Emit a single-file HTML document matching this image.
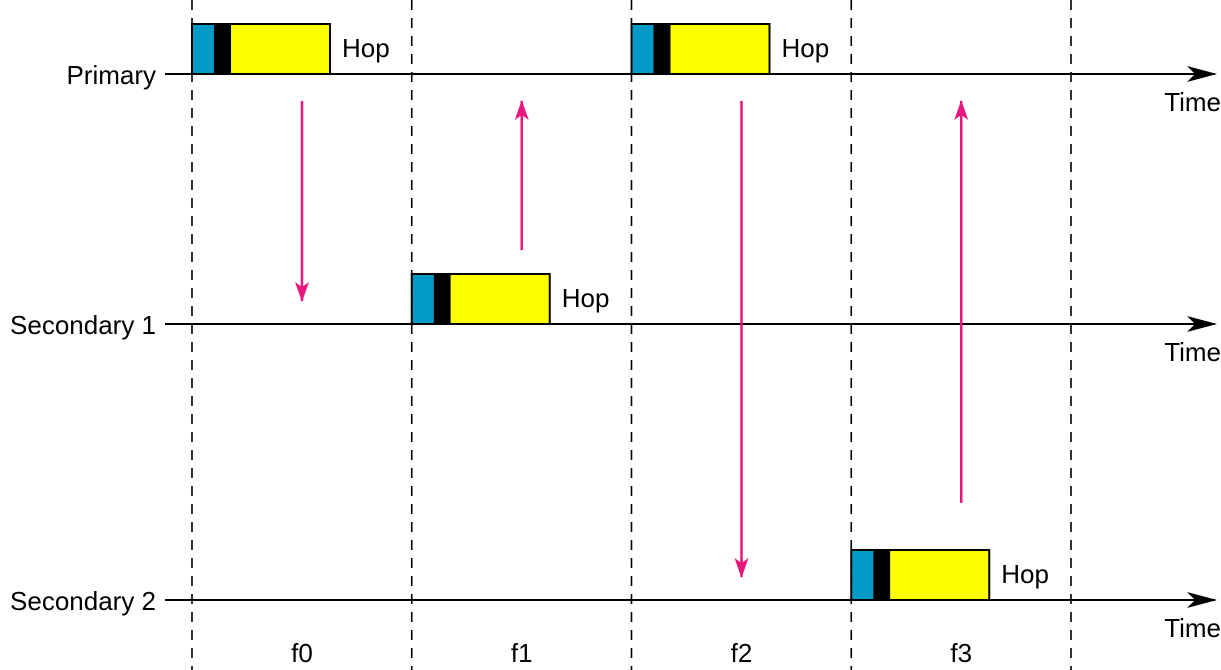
<!DOCTYPE html>
<html><head><meta charset="utf-8"><style>
html,body{margin:0;padding:0;background:#fff;width:1221px;height:670px;overflow:hidden}
svg text{font-family:"Liberation Sans",sans-serif;font-size:26px;fill:#000}
</style></head><body>
<svg id="c" width="1221" height="670"></svg>
<script>
const stations = ["Primary","Secondary 1","Secondary 2"];
const slots = ["f0","f1","f2","f3"];
const hopStation = [0,1,0,2];
const arrowFrom = [0,1,0,2];
const arrowTo = [1,0,2,0];

const NS="http://www.w3.org/2000/svg";
const svg=document.getElementById('c');
const lineY=[74,324,600];
const xS=i=>192+i*219.75;
const yS=s=>lineY[s];
function el(t,a,p){const e=document.createElementNS(NS,t);for(const k in a)e.setAttribute(k,a[k]);(p||svg).appendChild(e);return e;}
const defs=el('defs',{});
const mp=el('marker',{id:'ap',markerWidth:20,markerHeight:14,refX:19,refY:7,orient:'auto',markerUnits:'userSpaceOnUse'},defs);
el('path',{d:'M0,0 L20,7 L0,14 L5,7 Z',fill:'#e8177d'},mp);
const mb=el('marker',{id:'ab',markerWidth:30,markerHeight:16,refX:28,refY:8,orient:'auto',markerUnits:'userSpaceOnUse'},defs);
el('path',{d:'M0,0 L30,8 L0,16 L8,8 Z',fill:'#000'},mb);

for(let i=0;i<=slots.length;i++){
  const d=el('line',{x1:xS(i),y1:0,x2:xS(i),y2:670,stroke:'#000','stroke-width':1.6,'stroke-dasharray':'10,8'});
  
  
}
stations.forEach((s,k)=>{
  const y=yS(k);
  const l=el('line',{x1:165,y1:y,x2:1215,y2:y,stroke:'#000','stroke-width':2,'marker-end':'url(#ab)'});
  
  
  const t=el('text',{x:156,y:y+10,'text-anchor':'end'});t.textContent=s;
  
  
  const tt=el('text',{x:1221,y:y+37,'text-anchor':'end'});tt.textContent='Time';
  
  
});
slots.forEach((f,i)=>{
  const t=el('text',{x:xS(i)+110,y:662,'text-anchor':'middle'});t.textContent=f;
  
  
  const x=xS(i),y=yS(hopStation[i]);
  const g=el('g',{});
  
  
  el('rect',{x:x,y:y-50,width:22,height:50,fill:'#009ac7'},g);
  el('rect',{x:x+22,y:y-50,width:17,height:50,fill:'#000'},g);
  el('rect',{x:x+39,y:y-50,width:99,height:50,fill:'#ffff00'},g);
  el('rect',{x:x,y:y-50,width:138,height:50,fill:'none',stroke:'#000','stroke-width':2},g);
  const h=el('text',{x:x+150,y:y-17});h.textContent='Hop';
  
  
  const ax=x+110, a=yS(arrowFrom[i]), b=yS(arrowTo[i]);
  let y1,y2;
  if(b>a){y1=a+27;y2=b-23;}else{y1=a-((a-b)<300?74:97);y2=b+27;}
  const ar=el('line',{x1:ax,y1:y1,x2:ax,y2:y2,stroke:'#e8177d','stroke-width':2.5,'marker-end':'url(#ap)'});
  
  
});
</script>
</body></html>
